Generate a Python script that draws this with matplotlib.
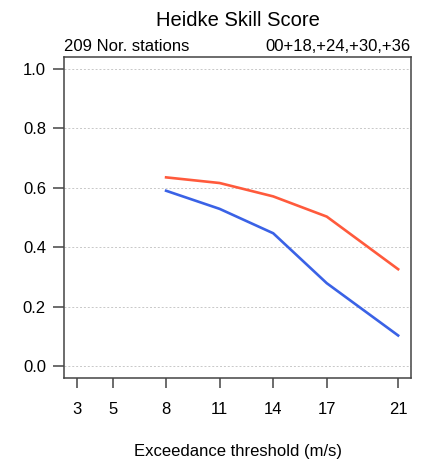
import matplotlib.pyplot as plt

plt.rcParams['font.family'] = ['Liberation Sans', 'DejaVu Sans']

# thresholds (m/s) and Heidke skill scores
thresholds = [8, 11, 14, 17, 21]
hss_red = [0.635, 0.616, 0.571, 0.503, 0.326]
hss_blue = [0.590, 0.529, 0.447, 0.279, 0.103]
x_ticks = [3, 5, 8, 11, 14, 17, 21]
y_ticks = [0.0, 0.2, 0.4, 0.6, 0.8, 1.0]

fig = plt.figure(figsize=(4.28, 4.61), dpi=100)
ax = fig.add_axes([64 / 428, 1 - 378 / 461, 347 / 428, 321 / 461])

for yv in y_ticks:
    ax.axhline(yv, color='#c8c8c8', lw=0.7, ls=(0, (2, 2)), zorder=0)

ax.plot(thresholds, hss_red, color='#ff5a3c', lw=1.9)
ax.plot(thresholds, hss_blue, color='#3a62e6', lw=1.9)

ax.set_xlim(2.28, 21.72)
ax.set_ylim(-0.04, 1.04)
ax.set_xticks(x_ticks)
ax.set_yticks(y_ticks)
ax.set_yticklabels([f'{v:.1f}' for v in y_ticks])

for s in ax.spines.values():
    s.set_color('#444444')
    s.set_linewidth(1.1)

ax.tick_params(axis='y', direction='out', length=8, width=1.1, color='#444444',
               labelsize=12, pad=5)
ax.tick_params(axis='x', direction='out', length=7, width=1.1, color='#444444',
               labelsize=12, pad=10)

ax.set_xlabel('Exceedance threshold (m/s)', fontsize=12, labelpad=20)
fig.text(237.5 / 428, 1 - 20 / 461, 'Heidke Skill Score', ha='center', va='center', fontsize=14.5)
ax.text(0, 1.01, '209 Nor. stations', transform=ax.transAxes, ha='left', va='bottom', fontsize=12)
ax.text(1, 1.01, '00+18,+24,+30,+36', transform=ax.transAxes, ha='right', va='bottom', fontsize=12)

fig.savefig('out.png', dpi=100)
